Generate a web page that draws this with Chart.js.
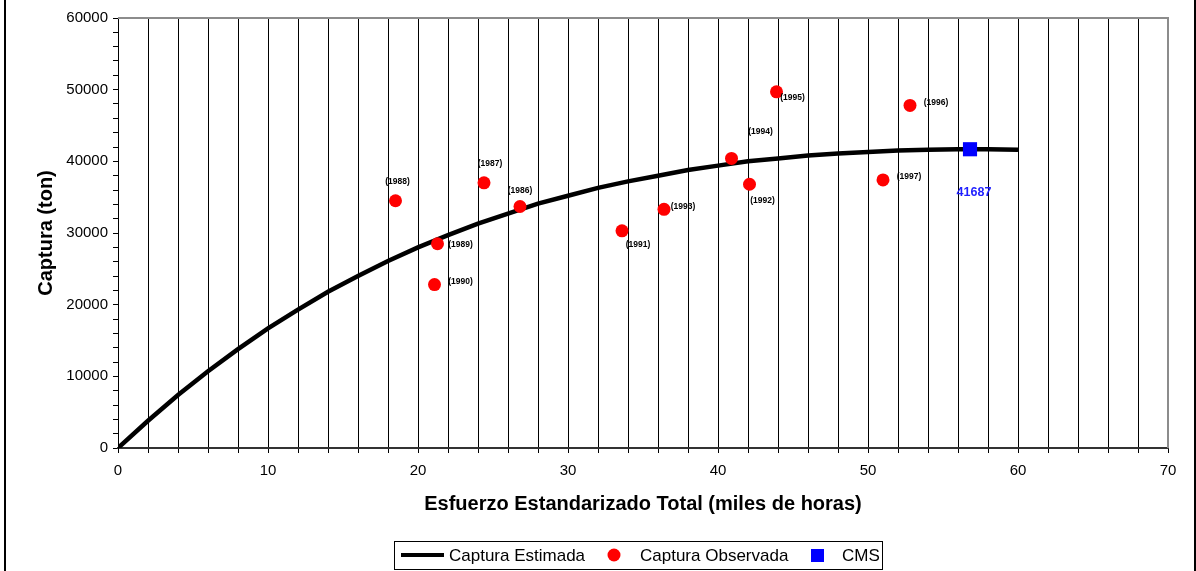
<!DOCTYPE html>
<html>
<head>
<meta charset="utf-8">
<script src="https://cdn.jsdelivr.net/npm/chart.js@4/dist/chart.umd.min.js"></script>
<style>
  body { margin: 0; background: #fff; }
  #wrap { width: 1196px; height: 571px; position: relative; }
</style>
</head>
<body>
<div id="wrap"><canvas id="chart" width="1196" height="571"></canvas></div>
<script>
// Captura estimada (curva), leida del grafico cada 2 mil horas
const esfuerzoCurva = [0, 2, 4, 6, 8, 10, 12, 14, 16, 18, 20, 22, 24, 26, 28, 30,
  32, 34, 36, 38, 40, 42, 44, 46, 48, 50, 52, 54, 56, 58, 60];
const capturaEstimada = [0, 3800, 7400, 10700, 13800, 16700, 19300, 21800, 24000, 26100,
  28000, 29700, 31300, 32700, 34100, 35200, 36300, 37200, 38000, 38800, 39400,
  40000, 40400, 40800, 41100, 41300, 41500, 41600, 41700, 41700, 41600];

// Captura observada por año
const anos = ['1986', '1987', '1988', '1989', '1990', '1991', '1992', '1993', '1994', '1995', '1996', '1997'];
const esfuerzoObs = [26.8, 24.4, 18.5, 21.3, 21.1, 33.6, 42.1, 36.4, 40.9, 43.9, 52.8, 51.0];
const capturaObs = [33700, 37000, 34500, 28500, 22800, 30300, 36800, 33300, 40400, 49700, 47800, 37400];

// Captura maxima sostenible
const esfuerzoCMS = [56.8];
const capturaCMS = [41687];

const xTicks = [0, 10, 20, 30, 40, 50, 60, 70];
const yTicks = [0, 10000, 20000, 30000, 40000, 50000, 60000];

// desplazamiento de las etiquetas de año (px)
const labelOffsets = [[0, -16], [6, -19], [2, -19], [23, 1], [26, -3], [16, 14],
  [13, 16], [19, -3], [29, -27], [16, 6], [26, -3], [26, -3]];

const FONT = '"Liberation Sans", Arial, sans-serif';
Chart.defaults.font.family = FONT;
Chart.defaults.color = '#000';

const toPoints = (xs, ys) => xs.map((x, i) => ({ x: x, y: ys[i] }));

const extras = {
  id: 'extras',
  afterDatasetsDraw(chart) {
    const ctx = chart.ctx;
    const a = chart.chartArea;
    ctx.save();
    // borde gris superior y derecho
    ctx.strokeStyle = '#8c8c8c';
    ctx.lineWidth = 2;
    ctx.beginPath();
    ctx.moveTo(a.left, a.top);
    ctx.lineTo(a.right, a.top);
    ctx.lineTo(a.right, a.bottom);
    ctx.stroke();

    // etiquetas de año
    ctx.font = 'bold 8.5px ' + FONT;
    ctx.fillStyle = '#000';
    ctx.textAlign = 'center';
    ctx.textBaseline = 'middle';
    chart.getDatasetMeta(1).data.forEach((pt, i) => {
      const off = labelOffsets[i];
      ctx.fillText('(' + anos[i] + ')', pt.x + off[0], pt.y + off[1]);
    });
    // valor CMS
    const cms = chart.getDatasetMeta(2).data[0];
    ctx.font = 'bold 12.5px ' + FONT;
    ctx.fillStyle = '#1f1fff';
    ctx.fillText(String(capturaCMS[0]), cms.x + 4, cms.y + 43);
    ctx.restore();
  },
  afterDraw(chart) {
    const ctx = chart.ctx;
    ctx.save();
    // marco exterior
    ctx.fillStyle = '#000';
    ctx.fillRect(4, 0, 2, 571);
    ctx.fillRect(1194, 0, 2, 571);

    // leyenda
    ctx.strokeStyle = '#000';
    ctx.lineWidth = 1;
    ctx.strokeRect(394.5, 541.5, 488, 28);
    ctx.lineWidth = 4;
    ctx.beginPath();
    ctx.moveTo(401, 555);
    ctx.lineTo(444, 555);
    ctx.stroke();
    ctx.fillStyle = '#ff0000';
    ctx.beginPath();
    ctx.arc(614, 555, 6.5, 0, Math.PI * 2);
    ctx.fill();
    ctx.fillStyle = '#0000ff';
    ctx.fillRect(811, 549, 13, 13);
    ctx.fillStyle = '#000';
    ctx.font = '17px ' + FONT;
    ctx.textAlign = 'left';
    ctx.textBaseline = 'middle';
    ctx.fillText('Captura Estimada', 449, 556);
    ctx.fillText('Captura Observada', 640, 556);
    ctx.fillText('CMS', 842, 556);
    ctx.restore();
  }
};

new Chart(document.getElementById('chart'), {
  type: 'scatter',
  data: {
    datasets: [
      {
        label: 'Captura Estimada',
        data: toPoints(esfuerzoCurva, capturaEstimada),
        showLine: true,
        borderColor: '#000',
        borderWidth: 4.5,
        pointRadius: 0,
        tension: 0,
        order: 3
      },
      {
        label: 'Captura Observada',
        data: toPoints(esfuerzoObs, capturaObs),
        backgroundColor: '#ff0000',
        borderColor: '#ff0000',
        pointRadius: 6.5,
        borderWidth: 0,
        order: 2
      },
      {
        label: 'CMS',
        data: toPoints(esfuerzoCMS, capturaCMS),
        pointStyle: 'rect',
        backgroundColor: '#0000ff',
        borderColor: '#0000ff',
        pointRadius: 10,
        borderWidth: 0,
        order: 1
      }
    ]
  },
  options: {
    responsive: false,
    animation: false,
    layout: { padding: { top: 18, right: 28, left: 0, bottom: 0 } },
    plugins: {
      legend: { display: false },
      tooltip: { enabled: false }
    },
    scales: {
      x: {
        type: 'linear',
        min: 0,
        max: 70,
        ticks: {
          stepSize: 2,
          autoSkip: false,
          maxRotation: 0,
          padding: 9,
          font: { size: 15 },
          callback: v => xTicks.includes(v) ? String(v) : ''
        },
        grid: { color: '#000', lineWidth: 1, tickLength: 5, tickColor: '#000' },
        border: { color: '#333', width: 2 },
        title: {
          display: true,
          text: 'Esfuerzo Estandarizado Total (miles de horas)',
          font: { size: 20, weight: 'bold' },
          padding: { top: 0, bottom: 55 }
        },
        afterFit: s => { s.height = 123; }
      },
      y: {
        min: 0,
        max: 60000,
        ticks: {
          stepSize: 2000,
          autoSkip: false,
          padding: 5,
          font: { size: 15 },
          callback: v => yTicks.includes(v) ? String(v) : ''
        },
        grid: { drawOnChartArea: false, tickLength: 5, tickColor: '#000' },
        border: { color: '#000', width: 1 },
        title: {
          display: true,
          text: 'Captura (ton)',
          font: { size: 20, weight: 'bold' },
          padding: { top: 34, bottom: 0 }
        },
        afterFit: s => { s.width = 118; }
      }
    }
  },
  plugins: [extras]
});
</script>
</body>
</html>
